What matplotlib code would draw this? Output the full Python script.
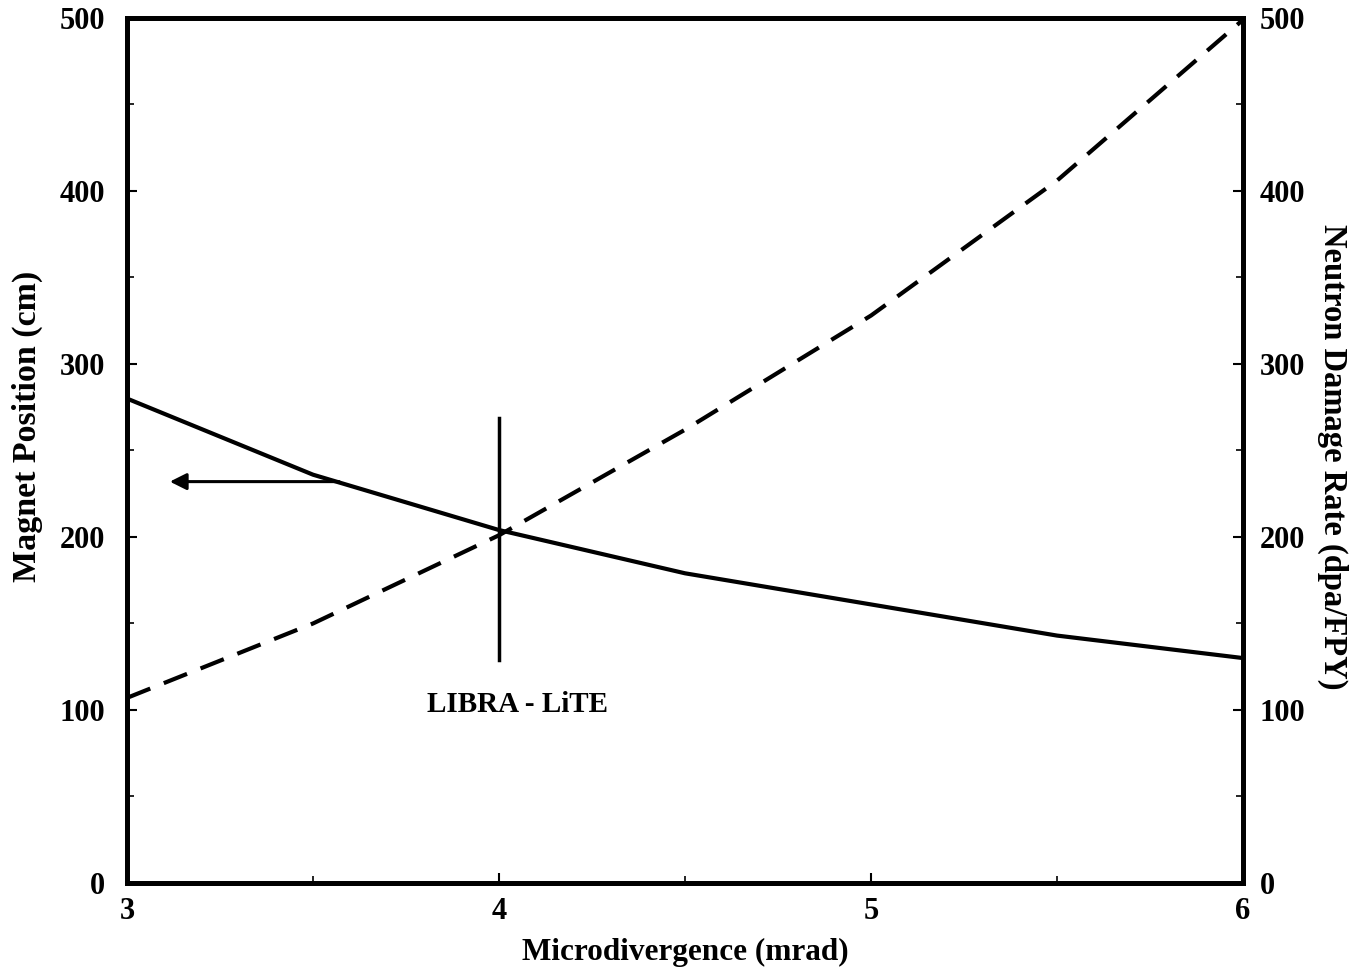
import matplotlib
matplotlib.use("Agg")
import matplotlib.pyplot as plt
from matplotlib.ticker import MultipleLocator

x = [3.0, 3.5, 4.0, 4.5, 5.0, 5.5, 6.0]
magnet_position = [280, 236, 204, 179, 161, 143, 130]
damage_rate = [107, 150, 201, 262, 328, 406, 499]

xticks = [3, 4, 5, 6]
yticks = [0, 100, 200, 300, 400, 500]

plt.rcParams['font.family'] = ['Liberation Serif', 'DejaVu Serif']
plt.rcParams['font.weight'] = 'bold'

fig = plt.figure(figsize=(13.72, 9.72), dpi=100)
ax = fig.add_axes([0.0926, 0.0916, 0.8134, 0.8899])
ax2 = ax.twinx()

ax.plot(x, magnet_position, color='black', lw=3)
ax2.plot(x, damage_rate, color='black', lw=3, ls=(0, (6, 3.5)))

# LIBRA - LiTE marker
ax.plot([4.0, 4.0], [129, 269], color='black', lw=2.5)
ax.text(4.05, 103, 'LIBRA - LiTE', ha='center', va='center', fontsize=21, fontweight='bold')
ax.annotate('', xy=(3.115, 232), xytext=(3.57, 232),
            arrowprops=dict(arrowstyle='-|>', color='black', lw=2.2, mutation_scale=25,
                            shrinkA=0, shrinkB=0))

for a in (ax, ax2):
    a.set_xlim(3, 6)
    a.set_ylim(0, 500)
    a.set_yticks(yticks)
    a.yaxis.set_minor_locator(MultipleLocator(50))
    for s in a.spines.values():
        s.set_linewidth(3.5)

ax.set_xticks(xticks)
ax.xaxis.set_minor_locator(MultipleLocator(0.5))
ax.tick_params(axis='x', which='major', direction='in', length=7, width=1.5, labelsize=22, pad=10)
ax.tick_params(axis='y', which='major', direction='in', length=7, width=1.5, labelsize=22, pad=16)
ax.tick_params(axis='both', which='minor', direction='in', length=5, width=1.2)
ax.tick_params(axis='x', which='both', top=False)
ax2.tick_params(axis='y', which='major', direction='in', length=7, width=1.5, labelsize=22, pad=12)
ax2.tick_params(axis='y', which='minor', direction='in', length=5, width=1.2)

for lab in ax.get_xticklabels() + ax.get_yticklabels() + ax2.get_yticklabels():
    lab.set_fontweight('bold')

ax.set_xlabel('Microdivergence (mrad)', fontsize=22.5, fontweight='bold', labelpad=9)
ax.set_ylabel('Magnet Position (cm)', fontsize=24.5, fontweight='bold', labelpad=12)
ax.yaxis.label.set_y(0.528)
ax2.set_ylabel('Neutron Damage Rate (dpa/FPY)', fontsize=23.5, fontweight='bold', rotation=270, labelpad=31)
ax2.yaxis.label.set_y(0.4925)

fig.savefig('out.png', dpi=100)
